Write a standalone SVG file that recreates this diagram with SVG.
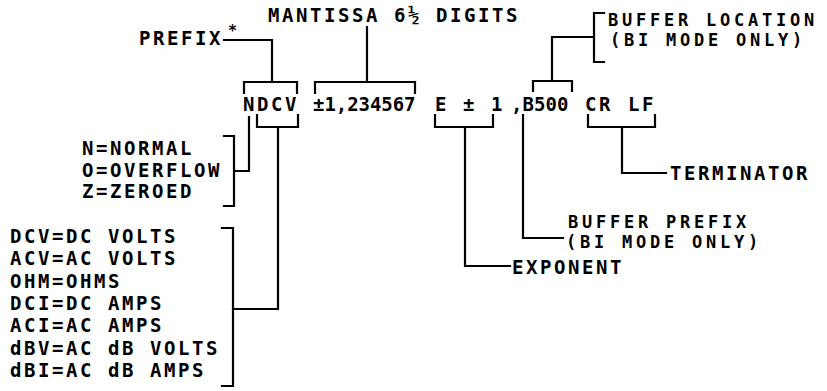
<svg xmlns="http://www.w3.org/2000/svg" width="827" height="391" viewBox="0 0 827 391">
<style>
text{font-family:"DejaVu Sans Mono","Liberation Mono",monospace;font-size:19px;font-weight:bold;letter-spacing:2.56px;fill:#000}
text.s{font-size:17px;letter-spacing:3.77px}
.c{fill:none;stroke:#000;stroke-width:2.2;stroke-linecap:square;stroke-linejoin:miter}
</style>
<rect width="827" height="391" fill="#fff"/>
<g id="mantissa-label"><text x="268" y="22">MANTISSA 6½ DIGITS</text></g>
<g id="prefix-label"><text x="139" y="45">PREFIX</text><text x="228" y="36" style="font-size:15px">*</text></g>
<g id="buffer-location-label"><text class="s" x="608" y="26">BUFFER LOCATION</text><text class="s" x="610" y="46">(BI MODE ONLY)</text></g>
<g id="format">
<text x="243" y="111">NDCV</text>
<text x="313" y="111" textLength="105" lengthAdjust="spacing">±1,234567</text>
<text x="435" y="111">E ± 1</text>
<text x="511" y="111" textLength="60" lengthAdjust="spacing">,B500</text>
<text x="585" y="111">CR</text>
<text x="628" y="111">LF</text>
</g>
<g id="status-list"><text x="82" y="155">N=NORMAL</text><text x="82" y="177">O=OVERFLOW</text><text x="82" y="198">Z=ZEROED</text></g>
<g id="function-list">
<text x="10" y="243">DCV=DC VOLTS</text>
<text x="10" y="265">ACV=AC VOLTS</text>
<text x="10" y="288">OHM=OHMS</text>
<text x="10" y="310">DCI=DC AMPS</text>
<text x="10" y="332">ACI=AC AMPS</text>
<text x="10" y="355">dBV=AC dB VOLTS</text>
<text x="10" y="377">dBI=AC dB AMPS</text>
</g>
<g id="terminator-label"><text x="670" y="180">TERMINATOR</text></g>
<g id="buffer-prefix-label"><text class="s" x="568" y="228">BUFFER PREFIX</text><text class="s" x="566" y="248">(BI MODE ONLY)</text></g>
<g id="exponent-label"><text x="512" y="274">EXPONENT</text></g>
<g id="connectors">
<path class="c" d="M224 40H272V82"/>
<path class="c" d="M244 93V82H297V93"/>
<path class="c" d="M315 93V82H415V93M367 82V27"/>
<path class="c" d="M533 91V81H572V91M552 81V37H594M604 13H594V62H604"/>
<path class="c" d="M257 115V127H298V115M278 127V309H233"/>
<path class="c" d="M222 228H233V386H222"/>
<path class="c" d="M249 117V171H234M224 136H234V206H224"/>
<path class="c" d="M435 115V127H493V115M465 127V266H510"/>
<path class="c" d="M523 115V238H563"/>
<path class="c" d="M588 115V127H655V115M622 127V173H666"/>
</g>
</svg>
